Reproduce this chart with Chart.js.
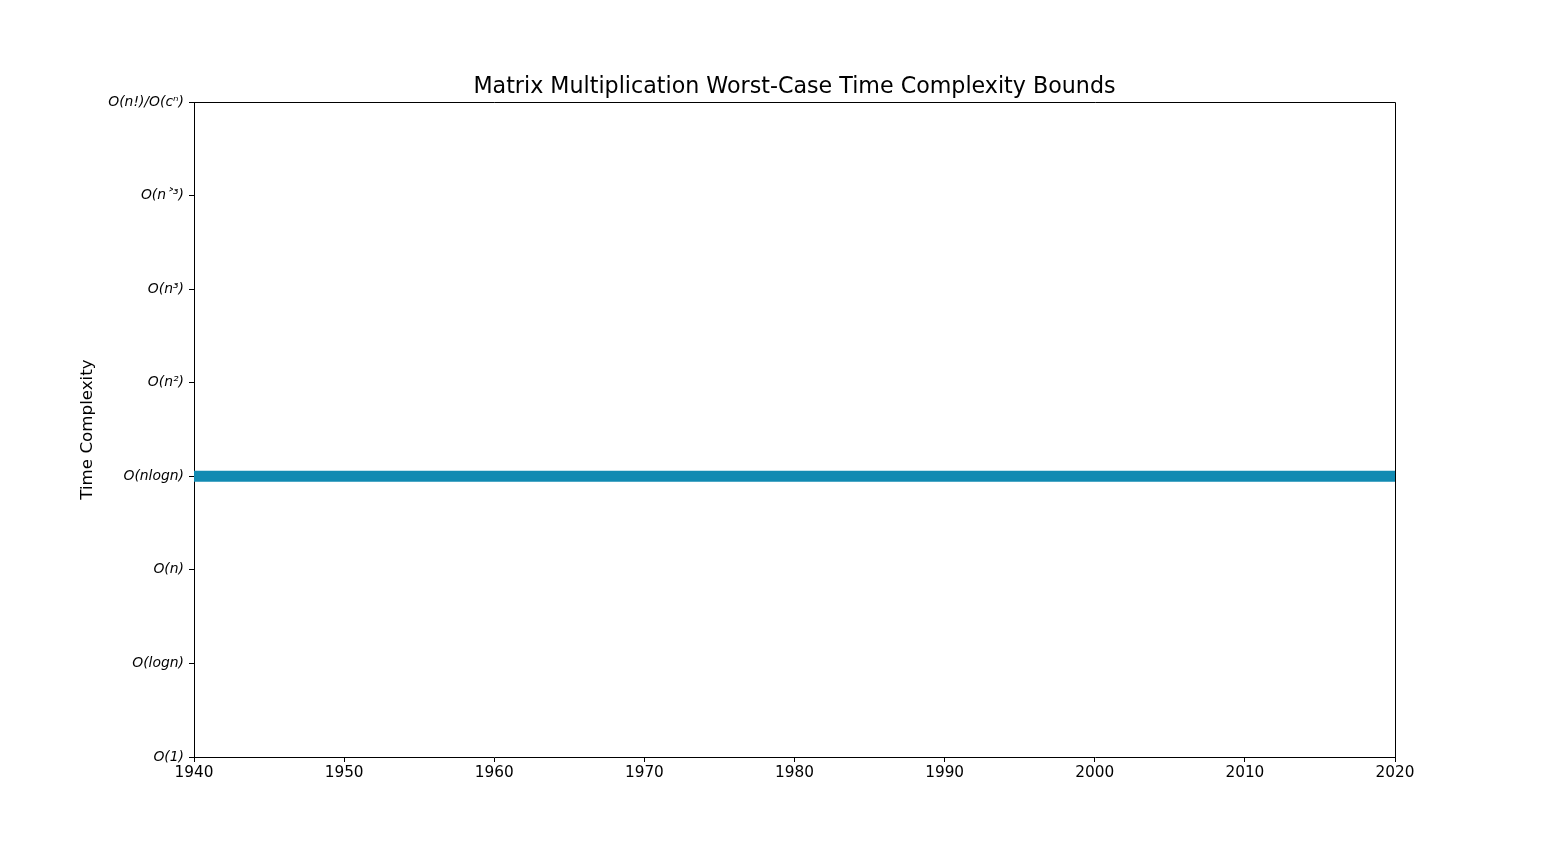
<!DOCTYPE html>
<html>
<head>
<meta charset="utf-8">
<script src="https://cdn.jsdelivr.net/npm/chart.js@4/dist/chart.umd.min.js"></script>
<style>
html,body{margin:0;padding:0;background:#fff;}
canvas{display:block;}
</style>
</head>
<body>
<canvas id="c" width="1550" height="850"></canvas>
<script>
// Data
const years = [1940, 2020];
const complexityLevel = [3, 3];
const complexityLabels = ["O(1)", "O(logn)", "O(n)", "O(nlogn)", "O(n²)", "O(n³)", "O(n˃³)", "O(n!)/O(cⁿ)"];
const xTicks = [1940, 1950, 1960, 1970, 1980, 1990, 2000, 2010, 2020];

const points = years.map((yr, i) => ({x: yr, y: complexityLevel[i]}));

const frame = {
  id: 'frame',
  afterDraw(chart) {
    const {ctx, chartArea: a} = chart;
    ctx.save();
    ctx.strokeStyle = '#000';
    ctx.lineWidth = 1;
    ctx.beginPath();
    ctx.moveTo(Math.round(a.left) + 0.5, Math.round(a.top) + 0.5);
    ctx.lineTo(Math.round(a.right) + 0.5, Math.round(a.top) + 0.5);
    ctx.lineTo(Math.round(a.right) + 0.5, Math.round(a.bottom) + 0.5);
    ctx.stroke();
    ctx.restore();
  }
};

new Chart(document.getElementById('c'), {
  type: 'line',
  data: {
    datasets: [{
      data: points,
      borderColor: '#118ab2',
      backgroundColor: '#118ab2',
      borderWidth: 11,
      pointRadius: 0,
      fill: false,
      tension: 0
    }]
  },
  options: {
    responsive: false,
    animation: false,
    layout: {padding: {left: 39, right: 0, top: 0, bottom: 0}},
    plugins: {
      legend: {display: false},
      tooltip: {enabled: false},
      title: {
        display: true,
        text: 'Matrix Multiplication Worst-Case Time Complexity Bounds',
        color: '#000',
        font: {family: 'DejaVu Sans', size: 22.2, weight: 'normal'},
        padding: {top: 74, bottom: 1.4}
      }
    },
    scales: {
      x: {
        type: 'linear',
        min: 1940,
        max: 2020,
        afterBuildTicks(scale) { scale.ticks = xTicks.map(v => ({value: v})); },
        afterFit(scale) { scale.height = 93; },
        ticks: {
          color: '#000',
          font: {family: 'DejaVu Sans', size: 15.3},
          padding: 2,
          maxRotation: 0,
          autoSkip: false,
          callback: v => String(v)
        },
        grid: {display: true, drawOnChartArea: false, drawTicks: true, tickLength: 5, tickColor: '#000'},
        border: {display: true, color: '#000', width: 1}
      },
      y: {
        type: 'linear',
        min: 0,
        max: 7,
        afterBuildTicks(scale) { scale.ticks = complexityLabels.map((_, i) => ({value: i})); },
        afterFit(scale) { scale.width = 155; },
        ticks: {
          color: '#000',
          font: {family: 'DejaVu Sans', size: 13.9, style: 'italic'},
          padding: 5,
          autoSkip: false,
          callback: v => complexityLabels[v]
        },
        grid: {display: true, drawOnChartArea: false, drawTicks: true, tickLength: 5, tickColor: '#000'},
        border: {display: true, color: '#000', width: 1},
        title: {
          display: true,
          text: 'Time Complexity',
          color: '#000',
          font: {family: 'DejaVu Sans', size: 16.7},
          padding: {top: 39, bottom: 0}
        }
      },
      yRight: {
        type: 'linear',
        position: 'right',
        min: 0,
        max: 7,
        afterFit(scale) { scale.width = 155; },
        ticks: {display: false},
        grid: {display: false},
        border: {display: false}
      }
    }
  },
  plugins: [frame]
});
</script>
</body>
</html>
